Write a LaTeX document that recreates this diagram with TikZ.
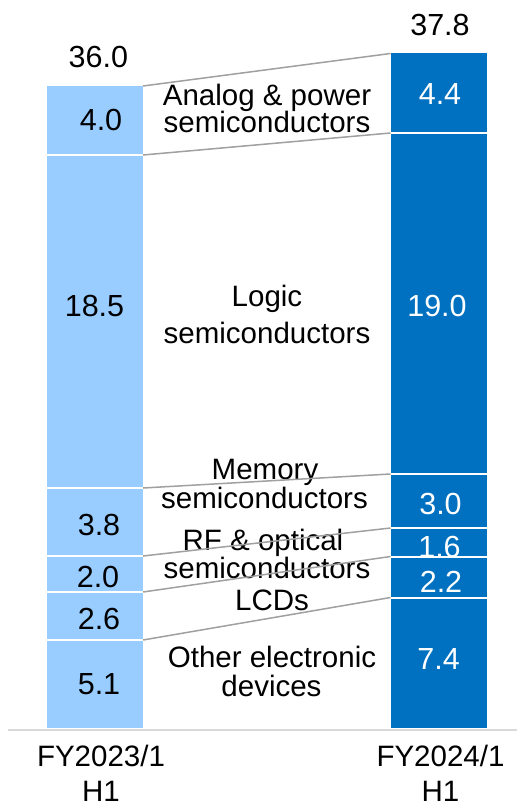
\documentclass[tikz,border=0pt]{standalone}
\usepackage{fontspec}
\setmainfont{Liberation Sans}
\definecolor{lightbar}{RGB}{153,204,255}
\definecolor{darkbar}{RGB}{0,112,192}
\definecolor{conncol}{RGB}{160,160,160}
\definecolor{axiscol}{RGB}{217,217,217}
\begin{document}
\begin{tikzpicture}[x=1pt,y=-1pt,
  lbl/.style={font=\fontsize{29.5}{29.5}\selectfont, anchor=base, inner sep=0pt},
  val/.style={font=\fontsize{30.5}{30.5}\selectfont, anchor=base, inner sep=0pt},
  wval/.style={val, text=white},
  connline/.style={draw=conncol, line width=1.5pt},
  sepline/.style={draw=white, line width=2pt},
  axisline/.style={draw=axiscol, line width=1.5pt}]
\useasboundingbox (0,0) rectangle (517,805);
% bars
\fill[lightbar] (47,86) rectangle (143,728);
\fill[darkbar] (390.5,53.5) rectangle (487,728);
% segment boundaries
\foreach \y in {155,488,556,592,640} \draw[sepline] (47,\y) -- (143,\y);
\foreach \y in {133,474,528,556.5,597.5} \draw[sepline] (390.5,\y) -- (487,\y);
% connector coordinates
\coordinate (la) at (143,86);   \coordinate (ra) at (390.5,53.5);
\coordinate (lb) at (143,155);  \coordinate (rb) at (390.5,133);
\coordinate (lc) at (143,488);  \coordinate (rc) at (390.5,474);
\coordinate (ld) at (143,556);  \coordinate (rd) at (390.5,528);
\coordinate (le) at (143,592);  \coordinate (re) at (390.5,556.5);
\coordinate (lf) at (143,640);  \coordinate (rf) at (390.5,597.5);
\coordinate (ax1) at (8,730);   \coordinate (ax2) at (517,730);
% totals
\node[val] (tot1) at (98.3,67.7) {36.0};
\node[val] (tot2) at (440,35.7) {37.8};
% left values
\node[val] (l1) at (101,131) {4.0};
\node[val] (l2) at (94.5,316.7) {18.5};
\node[val] (l3) at (99,535) {3.8};
\node[val] (l4) at (98,587.7) {2.0};
\node[val] (l5) at (99,629) {2.6};
\node[val] (l6) at (99,694) {5.1};
% right values
\node[wval] (r1) at (440,105) {4.4};
\node[wval] (r2) at (437,316.7) {19.0};
\node[wval] (r3) at (440.5,514) {3.0};
\node[wval] (r4) at (439.5,557) {1.6};
\node[wval] (r5) at (441,592.7) {2.2};
\node[wval] (r6) at (438.6,669) {7.4};
% category labels
\node[lbl] (c1a) at (267,106) {Analog \& power};
\node[lbl] (c1b) at (267,133) {semiconductors};
\node[lbl] (c2a) at (267,306.7) {Logic};
\node[lbl] (c2b) at (267,343) {semiconductors};
\node[lbl] (c3a) at (265,479) {Memory};
\node[lbl] (c3b) at (264.5,508) {semiconductors};
\node[lbl] (c4a) at (263,550) {RF \& optical};
\node[lbl] (c4b) at (267,578) {semiconductors};
\node[lbl] (c5) at (272,610.7) {LCDs};
\node[lbl] (c6a) at (272,667.7) {Other electronic};
\node[lbl] (c6b) at (271.5,696) {devices};
% connectors
\draw[connline] (la) -- (ra);
\draw[connline] (lb) -- (rb);
\draw[connline] (lc) -- (rc);
\draw[connline] (ld) -- (rd);
\draw[connline] (le) -- (re);
\draw[connline] (lf) -- (rf);
% axis
\draw[axisline] (ax1) -- (ax2);
% axis labels
\node[lbl] (x1a) at (101,766.7) {FY2023/1};
\node[lbl, text depth=0pt] (x1b) at (101,801.7) {H1};
\node[lbl] (x2a) at (440.5,766.7) {FY2024/1};
\node[lbl, text depth=0pt] (x2b) at (440.5,801.7) {H1};
\end{tikzpicture}
\end{document}
